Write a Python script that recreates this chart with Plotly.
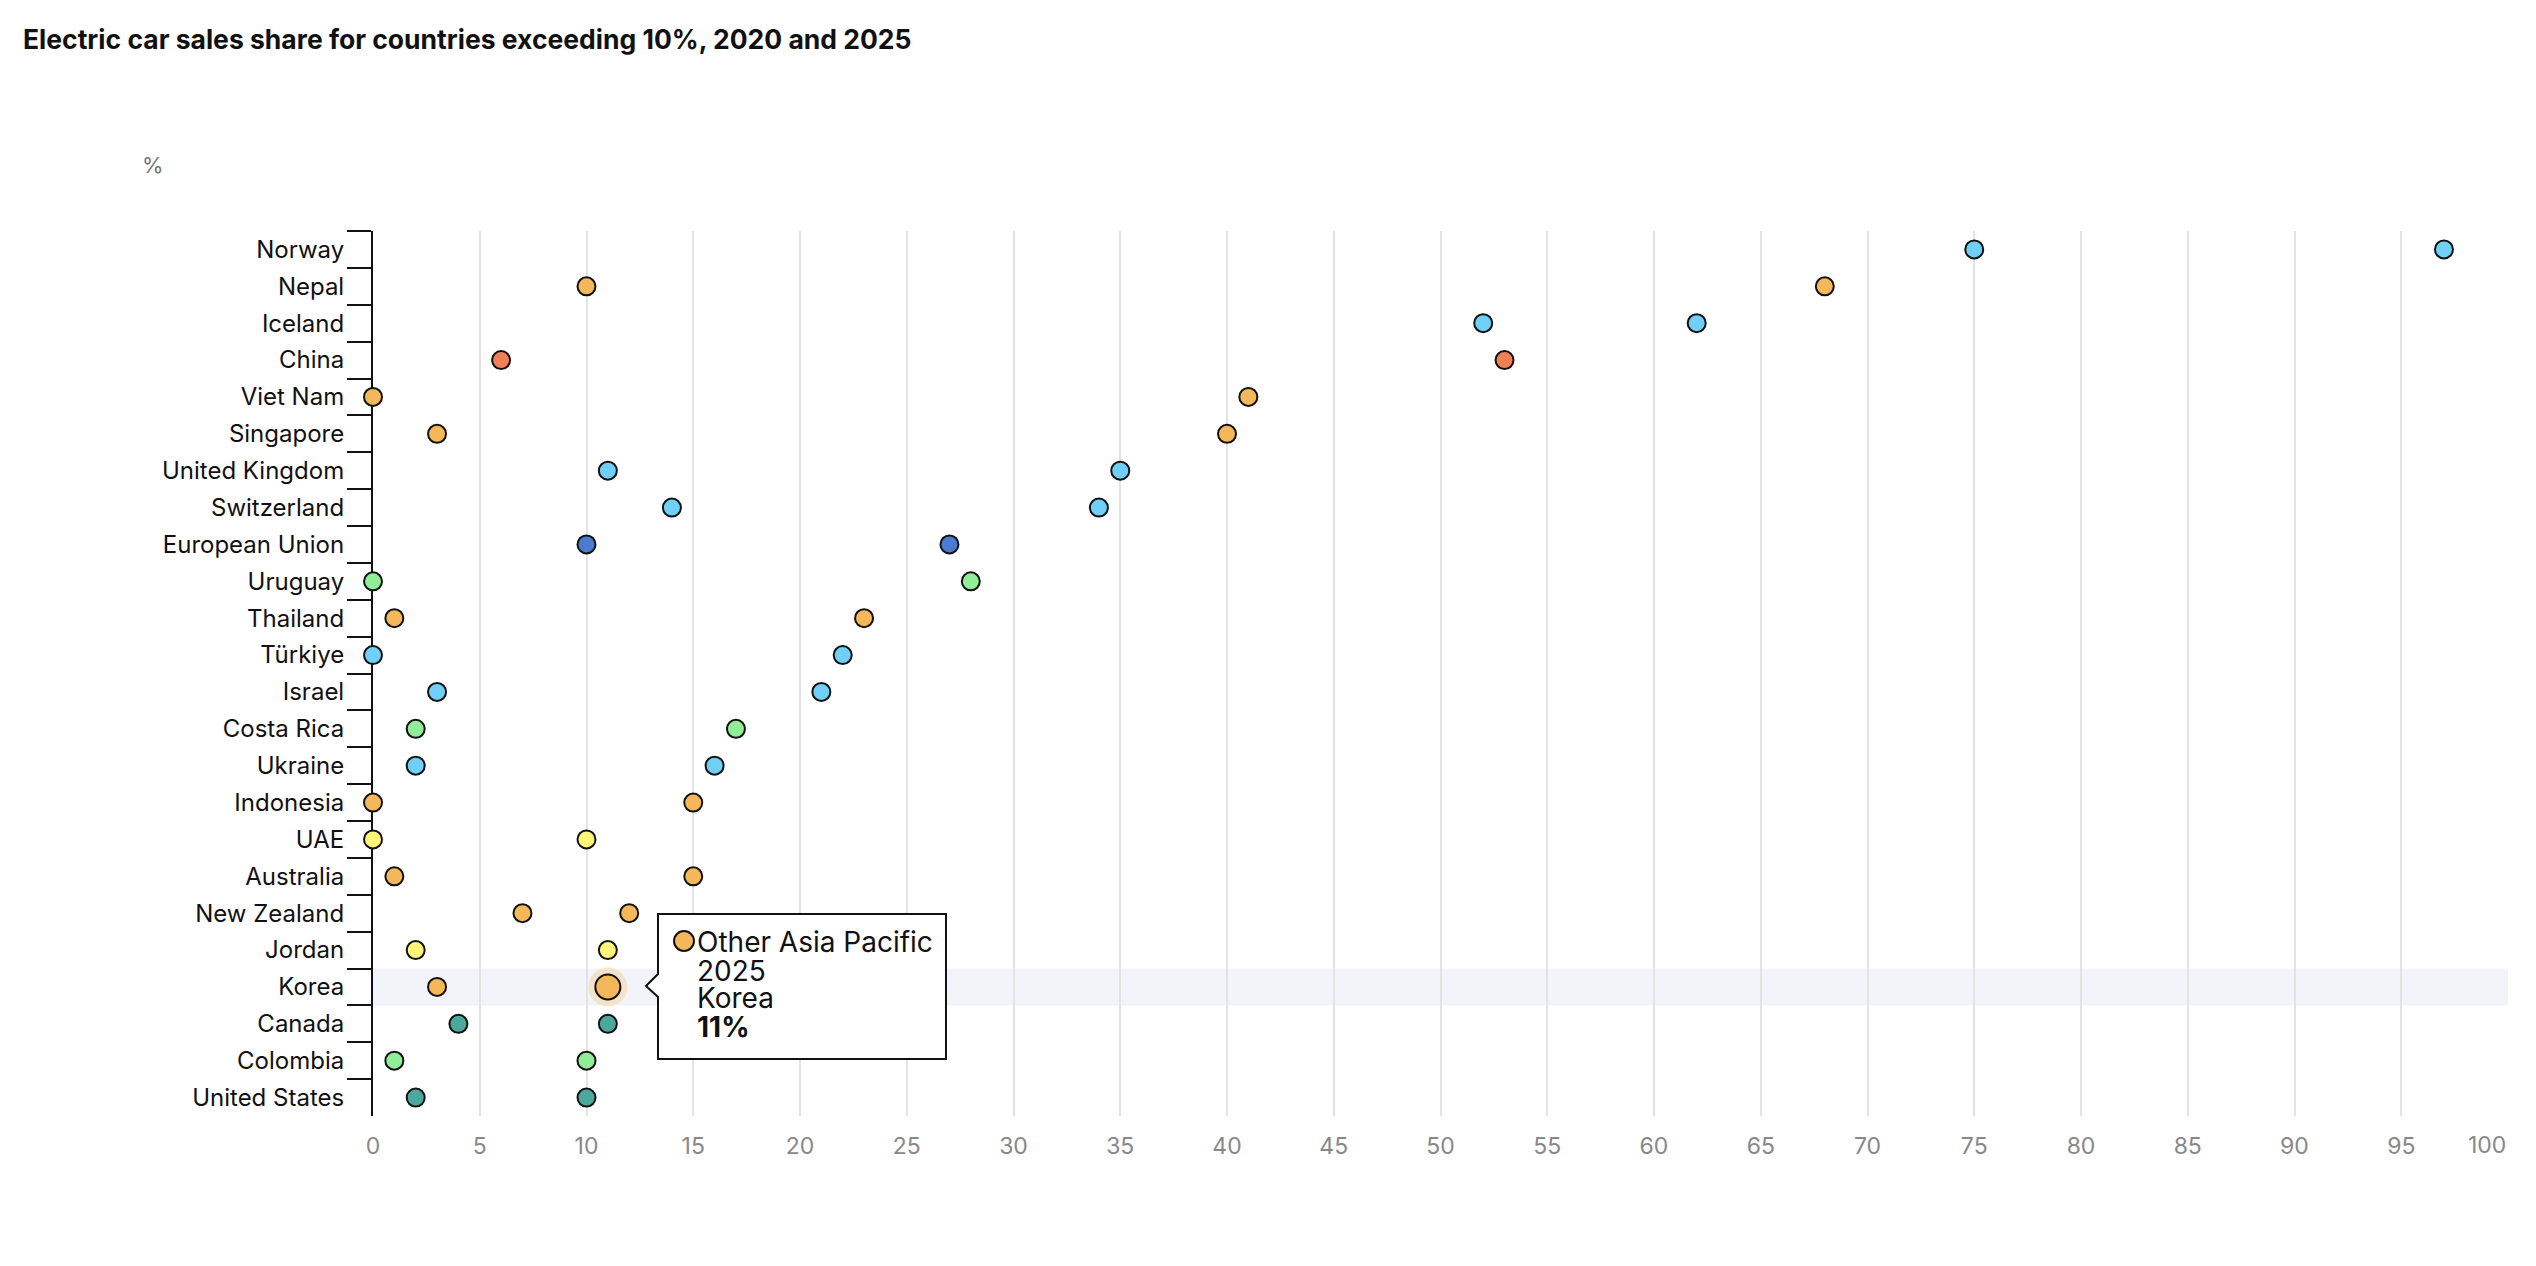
import plotly.graph_objects as go

countries = [
    "Norway", "Nepal", "Iceland", "China", "Viet Nam", "Singapore",
    "United Kingdom", "Switzerland", "European Union", "Uruguay", "Thailand",
    "Türkiye", "Israel", "Costa Rica", "Ukraine", "Indonesia", "UAE",
    "Australia", "New Zealand", "Jordan", "Korea", "Canada", "Colombia",
    "United States",
]
share_2020 = [75, 10, 52, 6, 0, 3, 11, 14, 10, 0, 1, 0, 3, 2, 2, 0, 0, 1, 7, 2, 3, 4, 1, 2]
share_2025 = [97, 68, 62, 53, 41, 40, 35, 34, 27, 28, 23, 22, 21, 17, 16, 15, 10, 15, 12, 11, 11, 11, 10, 10]
regions = [
    "Other Europe", "Other Asia Pacific", "Other Europe", "China",
    "Other Asia Pacific", "Other Asia Pacific", "Other Europe", "Other Europe",
    "European Union", "Latin America", "Other Asia Pacific", "Other Europe",
    "Other Europe", "Latin America", "Other Europe", "Other Asia Pacific",
    "Middle East", "Other Asia Pacific", "Other Asia Pacific", "Middle East",
    "Other Asia Pacific", "North America", "Latin America", "North America",
]
region_colors = {
    "Other Europe": "#70cff6",
    "Other Asia Pacific": "#f4b75a",
    "China": "#f08058",
    "European Union": "#4a7bd0",
    "Latin America": "#90ee98",
    "Middle East": "#fff578",
    "North America": "#4aa89c",
}
years = ["2020", "2025"]
x_ticks = list(range(0, 101, 5))

# hovered point shown in the reference
hover_country = "Korea"
hover_year = "2025"

FONT = "Inter"
# page is 2536x1266, the figure div sits inside the 8px body margin
OFF = 8
W, H = 2536 - 2 * OFF, 1266 - 2 * OFF
L, R, T, B = 373 - OFF, 20, 231 - OFF, 150 - OFF


def px(x):
    return (x - OFF - L) / (W - L - R)


def py(y):
    return (H - B - (y - OFF)) / (H - T - B)


fig = go.Figure()

for region, color in region_colors.items():
    xs, ys, yrs = [], [], []
    for c, a, b, r in zip(countries, share_2020, share_2025, regions):
        if r != region:
            continue
        xs += [a, b]
        ys += [c, c]
        yrs += years
    fig.add_trace(go.Scatter(
        x=xs, y=ys, mode="markers", name=region, customdata=yrs,
        marker=dict(size=18, color=color, line=dict(color="#111111", width=2)),
        hovertemplate=region + "<br>%{customdata}<br>%{y}<br><b>%{x}%</b><extra></extra>",
        cliponaxis=False,
    ))

i = countries.index(hover_country)
hv = share_2025[i] if hover_year == "2025" else share_2020[i]
hc = region_colors[regions[i]]
fig.add_trace(go.Scatter(
    x=[hv], y=[hover_country], mode="markers", hoverinfo="skip",
    marker=dict(size=39, color="rgba(244,183,90,0.28)", line=dict(width=0)),
))
fig.add_trace(go.Scatter(
    x=[hv], y=[hover_country], mode="markers", hoverinfo="skip",
    marker=dict(size=25, color=hc, line=dict(color="#111111", width=2)),
))

shapes = [
    dict(type="rect", xref="paper", yref="y", x0=0, x1=1, y0=i - 0.5, y1=i + 0.5,
         fillcolor="#f3f4f9", line=dict(width=0), layer="below"),
]
# tooltip box with pointer
pts = [(658, 914), (946, 914), (946, 1059), (658, 1059), (658, 997), (646, 986), (658, 974)]
path = "M " + " L ".join(f"{px(a):.5f},{py(b):.5f}" for a, b in pts) + " Z"
shapes.append(dict(type="path", xref="paper", yref="paper", path=path,
                   fillcolor="white", line=dict(color="#111111", width=2), layer="above"))
shapes.append(dict(type="circle", xref="paper", yref="paper",
                   x0=px(674), x1=px(694), y0=py(931), y1=py(951),
                   fillcolor=hc, line=dict(color="#111111", width=2), layer="above"))

tip_lines = [regions[i], hover_year, hover_country, f"<b>{hv}%</b>"]
tip_base = [952, 981, 1008, 1037]
annotations = [
    dict(text="%", xref="paper", yref="paper", x=px(140), y=py(165), xanchor="left",
         yanchor="middle", showarrow=False, font=dict(family=FONT, size=22, color="#777777")),
    # last x label sits flush with the right edge, as in the reference
    dict(text=str(x_ticks[-1]), xref="x", yref="paper", x=x_ticks[-1], y=py(1145),
         xanchor="right", yanchor="middle", showarrow=False,
         font=dict(family=FONT, size=23, color="#888888")),
]
for txt, yb in zip(tip_lines, tip_base):
    annotations.append(dict(
        text=txt, xref="paper", yref="paper", x=px(695), y=py(yb - 10),
        xanchor="left", yanchor="middle", showarrow=False,
        font=dict(family=FONT, size=28, color="#111111"),
    ))

fig.update_layout(
    title=dict(text="<b>Electric car sales share for countries exceeding 10%, 2020 and 2025</b>",
               x=15 / W, y=1 - 32 / H, xref="container", yref="container",
               xanchor="left", yanchor="middle",
               font=dict(family=FONT, size=26.5, color="#111111")),
    showlegend=False,
    plot_bgcolor="white",
    paper_bgcolor="white",
    margin=dict(l=L, r=R, t=T, b=B),
    font=dict(family=FONT, size=24, color="#111111"),
    shapes=shapes,
    annotations=annotations,
    hovermode="closest",
)
fig.update_xaxes(
    range=[0, 100], tickvals=x_ticks,
    ticktext=[str(v) for v in x_ticks[:-1]] + [""],
    showgrid=True, gridcolor="#e3e3e3", gridwidth=2,
    zeroline=False, showline=False, ticks="",
    tickfont=dict(family=FONT, size=23, color="#888888"), ticklabelstandoff=14,
)
fig.update_yaxes(
    type="category", categoryorder="array", categoryarray=countries,
    range=[len(countries) - 0.5, -0.5],
    showline=True, linecolor="#111111", linewidth=2, ticks="outside", ticklen=24,
    tickwidth=2, tickcolor="#111111", tickson="boundaries", showgrid=False,
    layer="below traces", ticklabelstandoff=22,
    tickfont=dict(family=FONT, size=24, color="#111111"),
)

fig.write_html("out.html")
